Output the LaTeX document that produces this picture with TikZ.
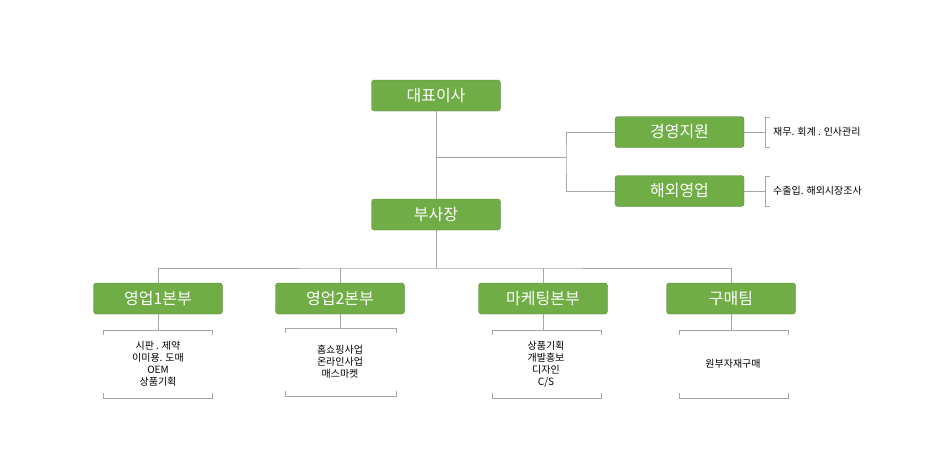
\documentclass[tikz,border=0pt]{standalone}
\usepackage{fontspec}
\setmainfont{Noto Sans CJK KR}
\begin{document}
\begin{tikzpicture}[x=1pt,y=-1pt,
 gbox/.style={draw=green!30!black!60!white,fill=green!40!black!30!lime!80!olive,rounded corners=3pt,minimum width=129pt,minimum height=31pt,text=white,font=\fontsize{16}{18}\selectfont,inner sep=0pt},
 ln/.style={draw=gray!70,line width=0.8pt},
 small/.style={font=\fontsize{10}{12}\selectfont,align=center,inner sep=0pt}]
\definecolor{gfill}{RGB}{112,173,71}
\definecolor{gedge}{RGB}{84,130,53}
\tikzset{gbox/.append style={fill=gfill,draw=gedge}}
\useasboundingbox (0,0) rectangle (952,475);
\node[gbox] (ceo) at (436,95.5) {대표이사};
\node[gbox] (vp) at (436,214.5) {부사장};
\node[gbox] (mg) at (679.5,132) {경영지원};
\node[gbox] (ov) at (679.5,191) {해외영업};
\coordinate (j1) at (436,157);
\coordinate (j2) at (566,157);
\draw[ln] (ceo) -- (vp);
\draw[ln] (j1) -- (j2);
\draw[ln] (mg.west) -| (j2) |- (ov.west);
\coordinate (b1) at (765,132);
\coordinate (b2) at (765,191);
\draw[ln] (mg.east) -- (b1);
\draw[ln] (ov.east) -- (b2);
\draw[ln] (770,117) -- (765,117) -- (765,147) -- (770,147);
\draw[ln] (770,176) -- (765,176) -- (765,206) -- (770,206);
\node[small,anchor=west] (t1) at (773,132) {재무. 회계 . 인사관리};
\node[small,anchor=west] (t2) at (773,191) {수출입. 해외시장조사};
\coordinate (h) at (436,268);
\draw[ln] (vp) -- (h);
\node[gbox] (d1) at (158,298.5) {영업1본부};
\node[gbox] (d2) at (340,298.5) {영업2본부};
\node[gbox] (d3) at (543,298.5) {마케팅본부};
\node[gbox] (d4) at (731,298.5) {구매팀};
\draw[ln] (d1.north) |- (h) -| (d4.north);
\draw[ln] (d2.north) -- (d2.north|-h);
\draw[ln] (d3.north) -- (d3.north|-h);
\foreach \n/\a/\b/\t/\c in {d1/103/212/330/158,d2/285/396/328/340,d3/492/601/330/546,d4/679/788/330/733}{
 \draw[ln] (\a,\t+5) -- (\a,\t) -- (\b,\t) -- (\b,\t+5);
 \draw[ln] (\a,\t+63) -- (\a,\t+68) -- (\b,\t+68) -- (\b,\t+63);
 \draw[ln] (\n.south) -- (\n.south|-{(0,\t)});
}
\node[small] (s1) at (158,364) {시판 . 제약\\이미용. 도매\\OEM\\상품기획};
\node[small] (s2) at (340,362) {홈쇼핑사업\\온라인사업\\매스마켓};
\node[small] (s3) at (546,364) {상품기획\\개발홍보\\디자인\\C/S};
\node[small] (s4) at (733,364) {원부자재구매};
\end{tikzpicture}
\end{document}
